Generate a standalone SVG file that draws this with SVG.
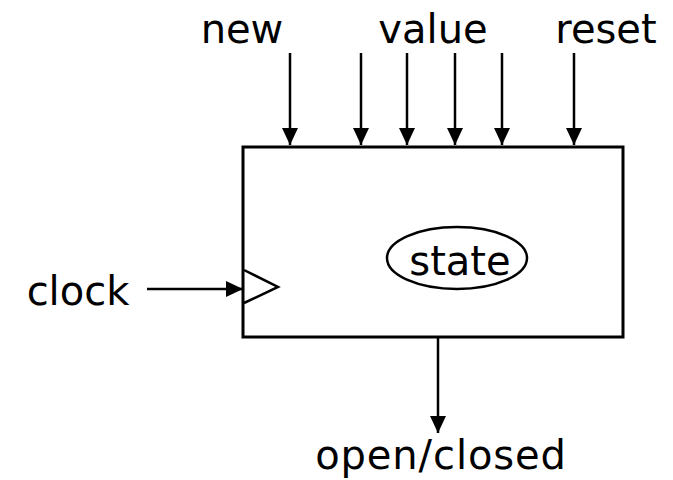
<svg xmlns="http://www.w3.org/2000/svg" width="673" height="480" viewBox="0 0 673 480">
  <defs>
    <marker id="arr" viewBox="0 0 17 16" refX="17" refY="8" markerWidth="17" markerHeight="16" markerUnits="userSpaceOnUse" orient="auto">
      <path d="M0,0 L17,8 L0,16 z" fill="#000"/>
    </marker>
    <style>
      text { font-family: "DejaVu Sans", Verdana, sans-serif; font-size: 40px; fill: #000; }
      .ln { stroke: #000; stroke-width: 2.5; fill: none; }
      .bx { stroke: #000; stroke-width: 3; fill: #fff; }
    </style>
  </defs>
  <rect width="673" height="480" fill="#fff"/>

  <g id="connectors">
    <line class="ln" x1="290" y1="53" x2="290" y2="145" marker-end="url(#arr)"/>
    <line class="ln" x1="361" y1="53" x2="361" y2="145" marker-end="url(#arr)"/>
    <line class="ln" x1="407" y1="53" x2="407" y2="145" marker-end="url(#arr)"/>
    <line class="ln" x1="455" y1="53" x2="455" y2="145" marker-end="url(#arr)"/>
    <line class="ln" x1="502" y1="53" x2="502" y2="145" marker-end="url(#arr)"/>
    <line class="ln" x1="574" y1="53" x2="574" y2="145" marker-end="url(#arr)"/>
    <line class="ln" x1="147" y1="289" x2="243" y2="289" marker-end="url(#arr)"/>
    <line class="ln" x1="438" y1="337" x2="438" y2="433" marker-end="url(#arr)"/>
  </g>

  <g id="box">
    <rect class="bx" x="243" y="147" width="380" height="190"/>
    <polyline class="ln" points="244,270 278,287 244,303"/>
  </g>

  <g id="state">
    <ellipse class="ln" cx="457" cy="258" rx="70" ry="31"/>
    <text x="460" y="275" text-anchor="middle">state</text>
  </g>

  <g id="labels">
    <text x="242" y="43" text-anchor="middle">new</text>
    <text x="433" y="43" text-anchor="middle">value</text>
    <text x="606" y="43" text-anchor="middle">reset</text>
    <text x="78" y="305" text-anchor="middle">clock</text>
    <text x="441" y="469" text-anchor="middle" letter-spacing="0.9">open/closed</text>
  </g>
</svg>
